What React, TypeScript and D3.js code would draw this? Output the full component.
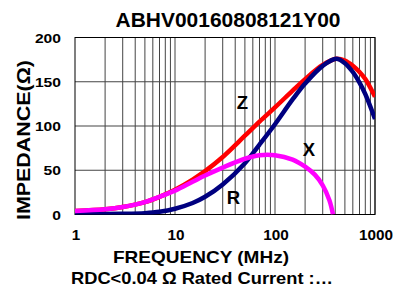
import React from 'react';
import * as d3 from 'd3';

const title = 'ABHV00160808121Y00';
const zFreqs = [1, 2, 3, 5, 7, 10, 15, 20, 30, 50, 70, 100, 150, 200, 300, 410, 500, 600, 700, 800, 1000];
const zValues = [4, 6, 8.5, 14, 20, 28, 39.5, 49, 65, 89, 105, 121, 140, 153, 169, 176, 174, 168, 161, 153, 133];
const rFreqs = [1, 3, 5, 7, 10, 15, 20, 30, 50, 70, 100, 150, 200, 300, 410, 500, 600, 700, 800, 1000];
const rValues = [0.5, 0.8, 1.5, 3, 6.5, 13, 20, 34, 58, 79, 102, 130, 148, 168, 176, 171, 161, 149, 136, 108];
const xFreqs = [1, 2, 3, 5, 7, 10, 15, 20, 30, 50, 70, 100, 150, 200, 250, 300, 350, 380];
const xValues = [4, 6, 8.5, 14, 20, 27, 37, 44, 53, 63, 67, 67, 62, 54, 45, 33, 16, 0];
const yTicks = [0, 50, 100, 150, 200];
const xTicks = [1, 10, 100, 1000];
const xAxisTitle = 'FREQUENCY (MHz)';
const subTitle = 'RDC<0.04 Ω Rated Current :…';
const yAxisTitle = 'IMPEDANCE(Ω)';

const W = 393;
const H = 289;
const left = 75;
const right = 375;
const top = 37.5;
const bottom = 214.5;
const font = 'Liberation Sans, Arial, sans-serif';

export default function App() {
  const x = d3.scaleLog().domain([1, 1000]).range([left, right]);
  const y = d3.scaleLinear().domain([0, 200]).range([bottom, top]);
  const line = d3
    .line<[number, number]>()
    .x((d) => x(d[0]))
    .y((d) => y(d[1]))
    .curve(d3.curveCatmullRom.alpha(0.5));

  const minor: number[] = [];
  for (const dec of [1, 10, 100]) {
    for (let k = 2; k <= 10; k++) minor.push(dec * k);
  }

  const zPts = zFreqs.map((f, i) => [f, zValues[i]] as [number, number]);
  const rPts = rFreqs.map((f, i) => [f, rValues[i]] as [number, number]);
  const xPts = xFreqs.map((f, i) => [f, xValues[i]] as [number, number]);

  return (
    <svg width={W} height={H} style={{ position: 'absolute', left: 0, top: 0 }} fontFamily={font} fontWeight="bold">
      <rect width={W} height={H} fill="#fff" />
      <defs>
        <clipPath id="plot">
          <rect x={left} y={top - 3} width={right - left} height={bottom - top + 3} />
        </clipPath>
      </defs>
      {minor.map((f) => (
        <line key={f} x1={x(f)} x2={x(f)} y1={top} y2={bottom} stroke="#444" strokeWidth={1} />
      ))}
      {yTicks.map((t) => (
        <line key={t} x1={left} x2={right} y1={y(t)} y2={y(t)} stroke="#444" strokeWidth={1.2} />
      ))}
      <rect x={left} y={top} width={right - left} height={bottom - top} fill="none" stroke="#000" strokeWidth={1} />
      <g clipPath="url(#plot)" fill="none" strokeWidth={4.5}>
        <path d={line(zPts) || ''} stroke="#ff0000" />
        <path d={line(rPts) || ''} stroke="#000080" />
        <path d={line(xPts) || ''} stroke="#ff00ff" />
      </g>
      <text x={228} y={26.5} textAnchor="middle" fontSize={19.5} textLength={225} lengthAdjust="spacingAndGlyphs">{title}</text>
      {yTicks.map((t) => (
        <text key={t} x={61} y={y(t) + 5} textAnchor="end" fontSize={13} textLength={String(t).length * 8.7} lengthAdjust="spacingAndGlyphs">{t}</text>
      ))}
      {xTicks.map((t) => (
        <text key={t} x={x(t) + 1} y={240} textAnchor="middle" fontSize={14} textLength={String(t).length * 8.5} lengthAdjust="spacingAndGlyphs">{t}</text>
      ))}
      <text x={201} y={263} textAnchor="middle" fontSize={17} textLength={176} lengthAdjust="spacingAndGlyphs">{xAxisTitle}</text>
      <text x={202} y={283.5} textAnchor="middle" fontSize={16.5} textLength={262} lengthAdjust="spacingAndGlyphs">{subTitle}</text>
      <text transform={`translate(29.5,140) rotate(-90)`} textAnchor="middle" fontSize={17.5} textLength={160} lengthAdjust="spacingAndGlyphs">{yAxisTitle}</text>
      <text x={242.5} y={108.5} textAnchor="middle" fontSize={18.5}>Z</text>
      <text x={309} y={155.5} textAnchor="middle" fontSize={18.5}>X</text>
      <text x={233.5} y={203.5} textAnchor="middle" fontSize={18.5}>R</text>
    </svg>
  );
}
